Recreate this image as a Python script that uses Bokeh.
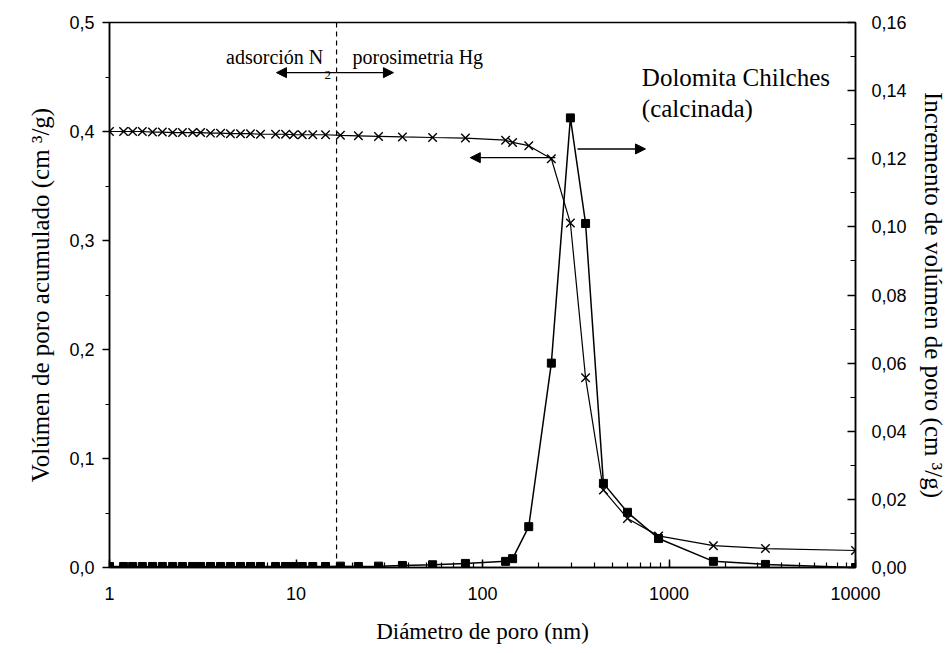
from bokeh.plotting import figure
from bokeh.models import (Range1d, LinearAxis, FixedTicker, LogTicker, Arrow, NormalHead, Span)
from bokeh.core.properties import value
from bokeh.embed import file_html
from bokeh.resources import INLINE

# ---- data ----
diam = [1.0, 1.19, 1.33, 1.50, 1.70, 1.92, 2.18, 2.46, 2.79, 3.08,
        3.48, 3.94, 4.45, 5.04, 5.70, 6.45, 7.77, 8.79, 9.7, 10.8,
        12.3, 14.4, 17.3, 21.6, 27.7, 37.2, 54, 81, 133, 145,
        177, 234, 296, 357, 445, 599, 879, 1730, 3290, 10000]
vol_acum = [0.400, 0.400, 0.400, 0.400, 0.3995, 0.3995, 0.399, 0.399, 0.399, 0.399,
            0.3985, 0.3985, 0.398, 0.398, 0.398, 0.3975, 0.3975, 0.3975, 0.397, 0.397,
            0.397, 0.397, 0.3965, 0.396, 0.3955, 0.395, 0.3945, 0.394, 0.392, 0.390,
            0.387, 0.375, 0.316, 0.174, 0.071, 0.045, 0.029, 0.020, 0.0174, 0.0156]
vol_inc = [0.0003, 0.0003, 0.0003, 0.0003, 0.0003, 0.0003, 0.0003, 0.0003, 0.0003, 0.0003,
           0.0003, 0.0003, 0.0003, 0.0003, 0.0003, 0.0003, 0.0003, 0.0003, 0.0003, 0.0003,
           0.0003, 0.0003, 0.0004, 0.0003, 0.0004, 0.0006, 0.0008, 0.0012, 0.0018, 0.0026,
           0.012, 0.060, 0.132, 0.101, 0.0247, 0.0162, 0.0085, 0.0018, 0.0009, 0.0]

left_ticks = [0.0, 0.1, 0.2, 0.3, 0.4, 0.5]
left_labels = ["0,0", "0,1", "0,2", "0,3", "0,4", "0,5"]
right_ticks = [0.0, 0.02, 0.04, 0.06, 0.08, 0.10, 0.12, 0.14, 0.16]
right_labels = ["0,00", "0,02", "0,04", "0,06", "0,08", "0,10", "0,12", "0,14", "0,16"]
x_ticks = [1, 10, 100, 1000, 10000]
x_labels = ["1", "10", "100", "1000", "10000"]
limite_n2_hg = 16.5

SERIF = "Liberation Serif"
SANS = "Liberation Sans"

p = figure(width=950, height=650, x_axis_type="log",
           x_range=Range1d(1, 10000), y_range=Range1d(0, 0.5),
           output_backend="svg", toolbar_location=None,
           min_border_left=109, min_border_right=95, min_border_top=22, min_border_bottom=83)
p.frame_width = 746
p.frame_height = 545
p.xgrid.visible = False
p.ygrid.visible = False
p.outline_line_color = "black"
p.outline_line_width = 1.5
p.background_fill_color = "white"
p.border_fill_color = "white"

p.extra_y_ranges = {"inc": Range1d(0, 0.16)}


def style_axis(ax, title, title_size, standoff, label_standoff):
    ax.axis_label = title
    ax.axis_label_text_font = SERIF
    ax.axis_label_text_font_style = "normal"
    ax.axis_label_text_font_size = title_size
    ax.axis_label_text_color = "black"
    ax.axis_label_standoff = standoff
    ax.major_label_text_font = SANS
    ax.major_label_text_font_size = "18px"
    ax.major_label_text_color = "black"
    ax.major_label_standoff = label_standoff
    ax.axis_line_color = "black"
    ax.axis_line_width = 1.5
    ax.major_tick_line_color = "black"
    ax.major_tick_line_width = 1.5
    ax.minor_tick_line_color = "black"
    ax.minor_tick_line_width = 1.2


# x axis
xa = p.xaxis[0]
xa.ticker = LogTicker(desired_num_ticks=5, num_minor_ticks=10)
xa.major_label_overrides = {t: l for t, l in zip(x_ticks, x_labels)}
style_axis(xa, "Diámetro de poro (nm)", "23px", 16, 19)
xa.major_tick_in = 8
xa.major_tick_out = 0
xa.minor_tick_in = 5
xa.minor_tick_out = 0

# left axis
ya = p.yaxis[0]
ya.ticker = FixedTicker(ticks=left_ticks, minor_ticks=[0.05, 0.15, 0.25, 0.35, 0.45])
ya.major_label_overrides = {t: l for t, l in zip(left_ticks, left_labels)}
style_axis(ya, "Volúmen de poro acumulado (cm ³/g)", "25px", 12, 8)
ya.major_tick_in = 0
ya.major_tick_out = 7
ya.minor_tick_in = 0
ya.minor_tick_out = 4

# right axis
ra = LinearAxis(y_range_name="inc")
ra.ticker = FixedTicker(ticks=right_ticks,
                        minor_ticks=[0.01, 0.03, 0.05, 0.07, 0.09, 0.11, 0.13, 0.15])
ra.major_label_overrides = {t: l for t, l in zip(right_ticks, right_labels)}
style_axis(ra, "Incremento de volúmen de poro (cm ³/g)", "25px", 10, 16)
ra.major_tick_in = 8
ra.major_tick_out = 0
ra.minor_tick_in = 5
ra.minor_tick_out = 0
p.add_layout(ra, "right")

# series
p.line(diam, vol_acum, line_color="black", line_width=1.2)
p.scatter(diam, vol_acum, marker="x", size=12, line_color="black", line_width=1.4)
p.line(diam, vol_inc, y_range_name="inc", line_color="black", line_width=1.5)
p.scatter(diam, vol_inc, y_range_name="inc", marker="square", size=8,
          fill_color="black", line_color="black")

# dashed separator
p.add_layout(Span(location=limite_n2_hg, dimension="height", line_color="black",
                  line_dash="5 4", line_width=1.2))

# annotations
p.text(x=[14.0], y=[0.468], text=["adsorción N"], text_font=value(SERIF),
       text_font_size="20px", text_align="right", text_baseline="middle", text_color="black")
p.text(x=[14.2], y=[0.452], text=["2"], text_font=value(SERIF),
       text_font_size="13px", text_align="left", text_baseline="middle", text_color="black")
p.text(x=[20.1], y=[0.468], text=["porosimetria Hg"], text_font=value(SERIF),
       text_font_size="20px", text_align="left", text_baseline="middle", text_color="black")
p.text(x=[715], y=[0.450], text=["Dolomita Chilches"], text_font=value(SERIF),
       text_font_size="25px", text_align="left", text_baseline="middle", text_color="black")
p.text(x=[715], y=[0.421], text=["(calcinada)"], text_font=value(SERIF),
       text_font_size="25px", text_align="left", text_baseline="middle", text_color="black")


def arrow(x0, y0, x1, y1):
    p.add_layout(Arrow(end=NormalHead(size=10, fill_color="black", line_color="black"),
                       x_start=x0, y_start=y0, x_end=x1, y_end=y1,
                       line_color="black", line_width=1.4))


arrow(limite_n2_hg, 0.454, 7.86, 0.454)
arrow(limite_n2_hg, 0.454, 33.3, 0.454)
arrow(246, 0.376, 86, 0.376)
arrow(323, 0.384, 748, 0.384)

open("out.html", "w").write(file_html(p, INLINE))
